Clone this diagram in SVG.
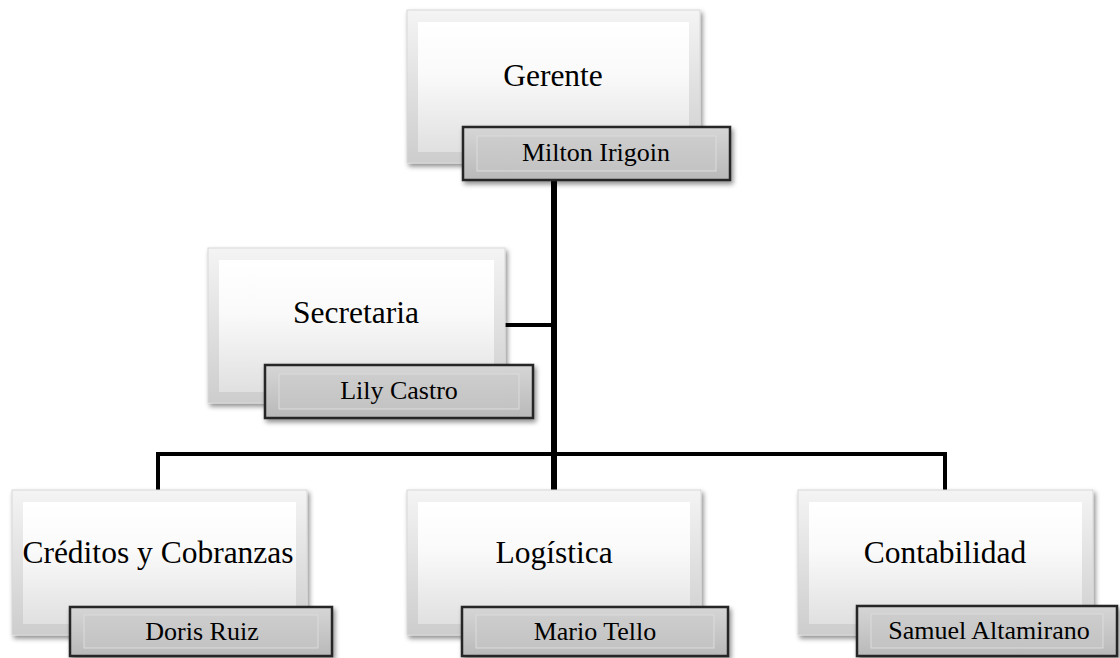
<svg xmlns="http://www.w3.org/2000/svg" width="1120" height="658" viewBox="0 0 1120 658">
  <defs>
    <linearGradient id="outerFace" x1="0" y1="0" x2="0" y2="1">
      <stop offset="0" stop-color="#f4f4f4"/>
      <stop offset="1" stop-color="#cdcdcd"/>
    </linearGradient>
    <linearGradient id="innerFace" x1="0" y1="0" x2="0" y2="1">
      <stop offset="0" stop-color="#ffffff"/>
      <stop offset="0.4" stop-color="#fafafa"/>
      <stop offset="1" stop-color="#e0e0e0"/>
    </linearGradient>
    <linearGradient id="nameFace" x1="0" y1="0" x2="0" y2="1">
      <stop offset="0" stop-color="#d6d6d6"/>
      <stop offset="1" stop-color="#b9b9b9"/>
    </linearGradient>
    <linearGradient id="nameInner" x1="0" y1="0" x2="0" y2="1">
      <stop offset="0" stop-color="#cdcdcd"/>
      <stop offset="1" stop-color="#c3c3c3"/>
    </linearGradient>
    <filter id="shadow" x="-10%" y="-10%" width="125%" height="130%">
      <feGaussianBlur in="SourceAlpha" stdDeviation="2.5"/>
      <feOffset dx="2" dy="3" result="b"/>
      <feComponentTransfer><feFuncA type="linear" slope="0.45"/></feComponentTransfer>
      <feMerge><feMergeNode/><feMergeNode in="SourceGraphic"/></feMerge>
    </filter>
  </defs>
  <style>
    .outer { fill: url(#outerFace); stroke: #d8d8d8; stroke-width: 1; }
    .inner { fill: url(#innerFace); }
    .name { fill: url(#nameFace); stroke: #262626; stroke-width: 2.5; }
    .nameIn { fill: url(#nameInner); stroke: #dcdcdc; stroke-width: 1; }
    .title { font-family: "Liberation Serif", "Times New Roman", serif; font-size: 31.5px; fill: #000; text-anchor: middle; }
    .person { font-family: "Liberation Serif", "Times New Roman", serif; font-size: 26px; fill: #000; text-anchor: middle; }
    .wire { stroke: #000; fill: none; stroke-linecap: square; }
  </style>

  <rect width="1120" height="658" fill="#ffffff"/>

  <!-- connectors -->
  <g id="connectors">
    <line class="wire" x1="554" y1="182" x2="554" y2="488" stroke-width="6"/>
    <line class="wire" x1="507" y1="325" x2="554" y2="325" stroke-width="4"/>
    <polyline class="wire" points="158,488 158,454 945,454 945,488" stroke-width="4"/>
  </g>

  <!-- Gerente -->
  <g id="gerente">
    <g filter="url(#shadow)">
      <rect class="outer" x="407" y="10" width="293" height="153"/>
      <rect class="inner" x="418" y="22" width="271" height="130"/>
    </g>
    <text class="title" x="553" y="86">Gerente</text>
    <g filter="url(#shadow)">
      <rect class="name" x="463" y="127" width="267" height="53"/>
      <rect class="nameIn" x="477" y="136" width="239" height="35"/>
    </g>
    <text class="person" x="596" y="161">Milton Irigoin</text>
  </g>

  <!-- Secretaria -->
  <g id="secretaria">
    <g filter="url(#shadow)">
      <rect class="outer" x="208" y="248" width="297" height="155"/>
      <rect class="inner" x="219" y="260" width="275" height="132"/>
    </g>
    <text class="title" x="356" y="323">Secretaria</text>
    <g filter="url(#shadow)">
      <rect class="name" x="265" y="365" width="268" height="53"/>
      <rect class="nameIn" x="279" y="374" width="240" height="35"/>
    </g>
    <text class="person" x="399" y="399">Lily Castro</text>
  </g>

  <!-- Créditos y Cobranzas -->
  <g id="creditos">
    <g filter="url(#shadow)">
      <rect class="outer" x="12" y="490" width="295" height="145"/>
      <rect class="inner" x="23" y="502" width="273" height="122"/>
    </g>
    <text class="title" x="158" y="563">Créditos y Cobranzas</text>
    <g filter="url(#shadow)">
      <rect class="name" x="70" y="607" width="262" height="49"/>
      <rect class="nameIn" x="84" y="615" width="234" height="33"/>
    </g>
    <text class="person" x="202" y="640">Doris Ruiz</text>
  </g>

  <!-- Logística -->
  <g id="logistica">
    <g filter="url(#shadow)">
      <rect class="outer" x="407" y="490" width="294" height="145"/>
      <rect class="inner" x="418" y="502" width="272" height="122"/>
    </g>
    <text class="title" x="554" y="563">Logística</text>
    <g filter="url(#shadow)">
      <rect class="name" x="462" y="607" width="266" height="49"/>
      <rect class="nameIn" x="476" y="615" width="238" height="33"/>
    </g>
    <text class="person" x="595" y="640">Mario Tello</text>
  </g>

  <!-- Contabilidad -->
  <g id="contabilidad">
    <g filter="url(#shadow)">
      <rect class="outer" x="798" y="490" width="295" height="145"/>
      <rect class="inner" x="809" y="502" width="273" height="122"/>
    </g>
    <text class="title" x="945" y="563">Contabilidad</text>
    <g filter="url(#shadow)">
      <rect class="name" x="857" y="606" width="260" height="50"/>
      <rect class="nameIn" x="871" y="614" width="232" height="34"/>
    </g>
    <text class="person" x="989" y="639">Samuel Altamirano</text>
  </g>
</svg>
